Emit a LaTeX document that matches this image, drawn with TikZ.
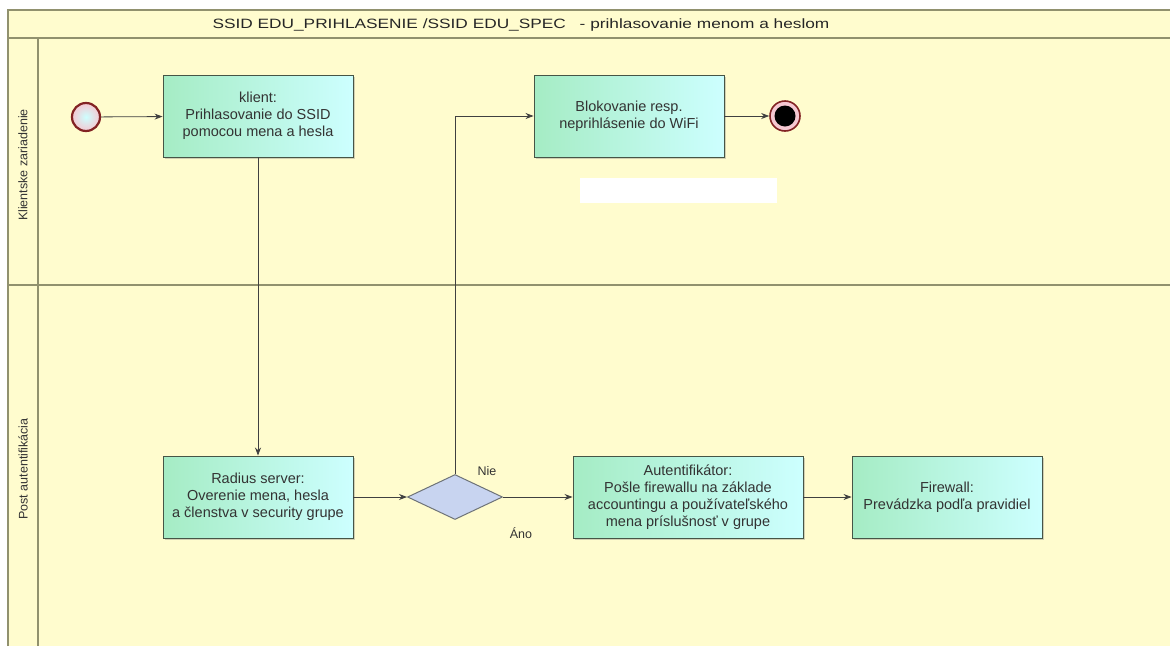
\documentclass[tikz,border=0pt]{standalone}
\usepackage{fontspec}
\setmainfont{Liberation Sans}
\usetikzlibrary{arrows.meta,shapes.geometric,shadows}

\definecolor{poolbg}{RGB}{255,252,206}
\definecolor{poolline}{RGB}{145,145,110}
\definecolor{taskleft}{RGB}{165,236,196}
\definecolor{taskright}{RGB}{205,255,255}
\definecolor{taskline}{RGB}{70,85,70}
\definecolor{gatefill}{RGB}{200,212,240}
\definecolor{gateline}{RGB}{110,115,120}
\definecolor{evline}{RGB}{130,35,35}
\definecolor{evfill}{RGB}{245,200,210}

\tikzset{
  task/.style={draw=taskline, line width=0.9pt, left color=taskleft, right color=taskright,
    minimum width=190pt, minimum height=82pt, align=center, text=black!80,
    font=\fontsize{14.5}{17}\selectfont, inner sep=2pt,
    drop shadow={opacity=0.35, shadow xshift=2pt, shadow yshift=-2pt}},
  gate/.style={diamond, draw=gateline, line width=1pt, fill=gatefill, aspect=2.1,
    minimum width=95pt, minimum height=45pt, inner sep=0pt},
  flow/.style={draw=black!75, line width=0.8pt, -{Stealth[length=8pt,width=6pt]}},
  lanetext/.style={rotate=90, font=\fontsize{12.5}{14}\selectfont, text=black!80},
  gatetext/.style={font=\fontsize{12.5}{14}\selectfont, text=black!80},
  poolborder/.style={draw=poolline, line width=1.4pt}
}

\begin{document}
\begin{tikzpicture}[x=1pt, y=-1pt]
    \useasboundingbox (0,0) rectangle (1170,646);

    % Pool and lanes
    \fill[poolbg] (8,10) rectangle (1170,646);
    \draw[poolborder] (8,646) -- (8,10) -- (1170,10);
    \draw[poolborder] (8,38) -- (1170,38);
    \draw[poolborder] (38,38) -- (38,646);
    \draw[poolborder] (8,285) -- (1170,285);
    \node[font=\fontsize{13.5}{16}\selectfont, text=black!85] (title) at (521,25)
        {\scalebox{1.28}[1]{SSID EDU\_PRIHLASENIE /SSID EDU\_SPEC\hspace{0.8em}- prihlasovanie menom a heslom}};
    \node[lanetext] (lane1) at (23,165) {Klientske zariadenie};
    \node[lanetext] (lane2) at (23,469) {Post autentifikácia};

    % Events
    \node[circle, draw=evline, line width=2.2pt, inner color=taskright, outer color=evfill,
        minimum size=28pt, inner sep=0pt] (start) at (86,117) {};
    \node[circle, draw=evline, line width=1.6pt, fill=evfill, minimum size=30pt,
        inner sep=0pt] (end) at (785,116) {};
    \fill[black] (end.center) circle (10.5pt);

    % Tasks
    \node[task] (klient) at (258,116) {klient:\\Prihlasovanie do SSID\\pomocou mena a hesla};
    \node[task] (block) at (629,116) {Blokovanie resp.\\neprihlásenie do WiFi};
    \node[task] (radius) at (258,497) {Radius server:\\Overenie mena, hesla\\a členstva v security grupe};
    \node[gate] (check) at (455,497) {};
    \node[task, minimum width=230pt] (auth) at (688,497)
        {Autentifikátor:\\Pošle firewallu na základe\\accountingu a používateľského\\mena príslušnosť v grupe};
    \node[task] (fw) at (947,497) {Firewall:\\Prevádzka podľa pravidiel};

    % White blank patch
    \fill[white] (580,178) rectangle (777,203);

    % Flows
    \draw[flow] (start) -- (klient);
    \draw[flow] (klient) -- (radius);
    \draw[flow] (radius) -- (check);
    \draw[flow] (check.north) |- (block.west);
    \draw[flow] (block) -- (end);
    \draw[flow] (check) -- (auth);
    \draw[flow] (auth) -- (fw);

    % Gateway labels
    \node[gatetext] (nie) at (487,471) {Nie};
    \node[gatetext] (ano) at (521,533) {Áno};
\end{tikzpicture}
\end{document}
